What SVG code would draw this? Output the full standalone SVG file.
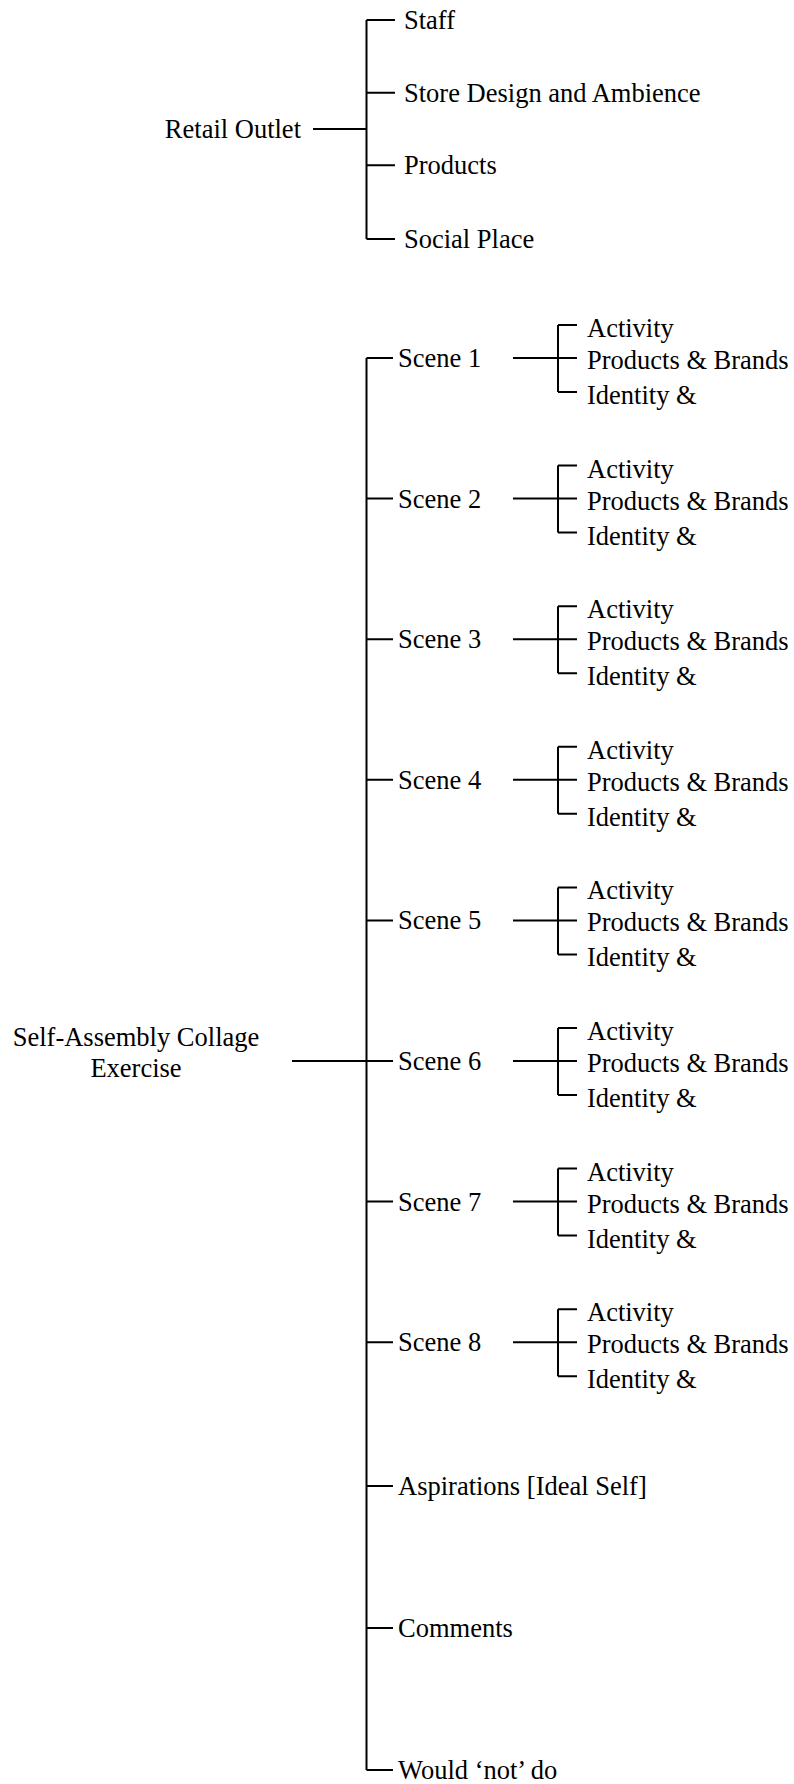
<svg xmlns="http://www.w3.org/2000/svg" width="794" height="1784" viewBox="0 0 794 1784">
  <style>
    .t { font-family: "Liberation Serif", "Times New Roman", serif; font-size: 26.5px; fill: #000; }
    .c { text-anchor: middle; }
    .e { text-anchor: end; }
    .ln { stroke: #000; stroke-width: 2; fill: none; }
  </style>
  <defs>
    <!-- sub-branch drawn once per scene: stem, bracket and three ticks -->
    <g id="sub">
      <path class="ln" d="M513 0 H577 M558 -33 V34 M558 -33 H577 M558 34 H577"/>
    </g>
    <!-- the three labels of a scene's sub-branch -->
    <g id="sublabels">
      <text class="t" x="587" y="-21">Activity</text>
      <text class="t" x="587" y="11">Products &amp; Brands</text>
      <text class="t" x="587" y="46">Identity &amp;</text>
    </g>
  </defs>
  <rect width="794" height="1784" fill="#fff"/>

  <g id="connectors">
    <!-- Retail Outlet tree -->
    <path class="ln" d="M313 129 H366.5 M366.5 20 V239 M366.5 20 H395 M366.5 92.7 H395 M366.5 165.3 H395 M366.5 239 H395"/>
    <!-- Self-Assembly tree trunk -->
    <path class="ln" d="M292 1061 H366.5 M366.5 358 V1770"/>
    <path class="ln" d="M366.5 358 H393 M366.5 498.6 H393 M366.5 639.2 H393 M366.5 779.8 H393 M366.5 920.4 H393 M366.5 1061 H393 M366.5 1201.6 H393 M366.5 1342.2 H393 M366.5 1486 H393 M366.5 1628 H393 M366.5 1770 H393"/>
    <use href="#sub" y="358"/>
    <use href="#sub" y="498.6"/>
    <use href="#sub" y="639.2"/>
    <use href="#sub" y="779.8"/>
    <use href="#sub" y="920.4"/>
    <use href="#sub" y="1061"/>
    <use href="#sub" y="1201.6"/>
    <use href="#sub" y="1342.2"/>
  </g>

  <g id="retail-outlet"><text class="t e" x="301" y="138">Retail Outlet</text></g>
  <g id="staff"><text class="t" x="404" y="29">Staff</text></g>
  <g id="store-design"><text class="t" x="404" y="101.7">Store Design and Ambience</text></g>
  <g id="products"><text class="t" x="404" y="174.3">Products</text></g>
  <g id="social-place"><text class="t" x="404" y="248">Social Place</text></g>

  <g id="self-assembly">
    <text class="t c" x="136" y="1046">Self-Assembly Collage</text>
    <text class="t c" x="136" y="1077">Exercise</text>
  </g>

  <g id="scene-1"><text class="t" x="398" y="367">Scene 1</text><use href="#sublabels" y="358"/></g>
  <g id="scene-2"><text class="t" x="398" y="507.6">Scene 2</text><use href="#sublabels" y="498.6"/></g>
  <g id="scene-3"><text class="t" x="398" y="648.2">Scene 3</text><use href="#sublabels" y="639.2"/></g>
  <g id="scene-4"><text class="t" x="398" y="788.8">Scene 4</text><use href="#sublabels" y="779.8"/></g>
  <g id="scene-5"><text class="t" x="398" y="929.4">Scene 5</text><use href="#sublabels" y="920.4"/></g>
  <g id="scene-6"><text class="t" x="398" y="1070">Scene 6</text><use href="#sublabels" y="1061"/></g>
  <g id="scene-7"><text class="t" x="398" y="1210.6">Scene 7</text><use href="#sublabels" y="1201.6"/></g>
  <g id="scene-8"><text class="t" x="398" y="1351.2">Scene 8</text><use href="#sublabels" y="1342.2"/></g>

  <g id="aspirations"><text class="t" x="398" y="1495">Aspirations [Ideal Self]</text></g>
  <g id="comments"><text class="t" x="398" y="1637">Comments</text></g>
  <g id="would-not-do"><text class="t" x="398" y="1779">Would ‘not’ do</text></g>
</svg>
